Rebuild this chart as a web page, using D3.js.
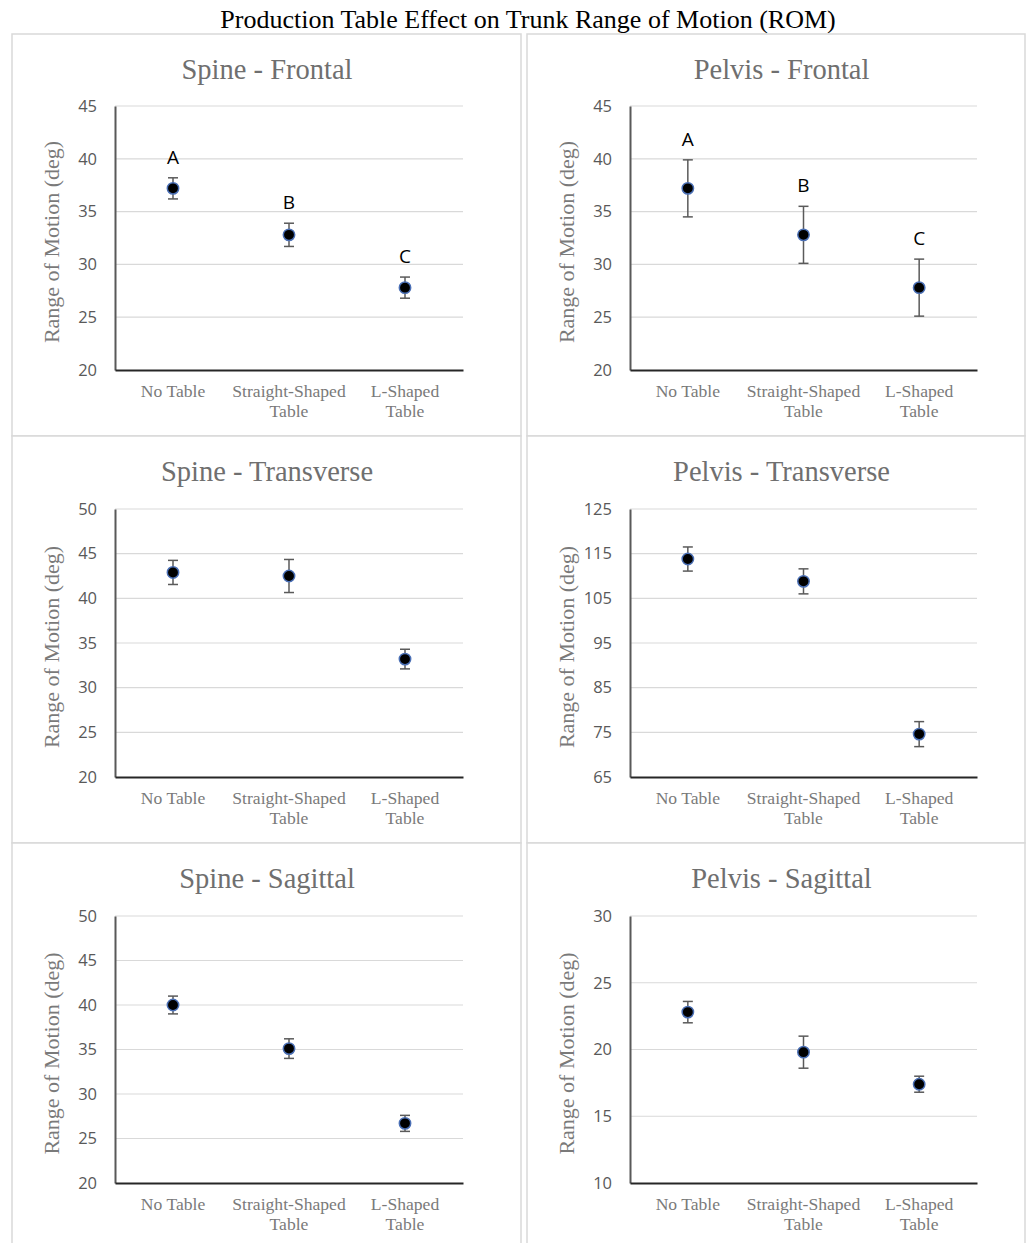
<!DOCTYPE html>
<html>
<head>
<meta charset="utf-8">
<script src="https://cdn.jsdelivr.net/npm/d3@7"></script>
<style>
  body { margin: 0; background: #fff; }
  svg { display: block; }
</style>
</head>
<body>
<div id="chart"></div>
<script>
// chart data
let chartTitle = "Production Table Effect on Trunk Range of Motion (ROM)";
let categories = ["No Table", "Straight-Shaped Table", "L-Shaped Table"];
let categoryLines = [["No Table"], ["Straight-Shaped", "Table"], ["L-Shaped", "Table"]];
let panelTitles = ["Spine - Frontal", "Pelvis - Frontal", "Spine - Transverse", "Pelvis - Transverse", "Spine - Sagittal", "Pelvis - Sagittal"];
let yDomains = [[20, 45], [20, 45], [20, 50], [65, 125], [20, 50], [10, 30]];
let yTickSteps = [5, 5, 5, 10, 5, 5];
let means = [
    [37.2, 32.8, 27.8],
    [37.2, 32.8, 27.8],
    [42.9, 42.5, 33.2],
    [113.8, 108.8, 74.6],
    [40.0, 35.1, 26.7],
    [22.8, 19.8, 17.4]
];
let errors = [
    [1.0, 1.1, 1.0],
    [2.7, 2.7, 2.7],
    [1.35, 1.85, 1.1],
    [2.7, 2.8, 2.8],
    [1.0, 1.1, 0.9],
    [0.8, 1.2, 0.6]
];
let letters = [["A", "B", "C"], ["A", "B", "C"], null, null, null, null];
let yTitle = "Range of Motion (deg)";

// layout
let W = 1026, H = 1243;
let colX = [12, 527], colW = [509, 498];
let rowY = [34, 436, 843], rowH = [402, 407, 410];
let plotTops = [106, 509, 916], plotBottoms = [370, 777, 1183];
let plotLeftOff = 103, plotRightOff = [451, 450];

let serif = "'Liberation Serif', 'Times New Roman', serif";
let sans = "'Open Sans', 'Liberation Sans', sans-serif";

let svg = d3.select("#chart").append("svg")
    .attr("width", W)
    .attr("height", H);

svg.append("rect").attr("width", W).attr("height", H).attr("fill", "#fff");

svg.append("text")
    .attr("x", 528).attr("y", 28)
    .attr("text-anchor", "middle")
    .style("font-family", serif)
    .style("font-size", "26px")
    .style("fill", "#000")
    .text(chartTitle);

panelTitles.forEach(function (title, p) {
    let col = p % 2, row = Math.floor(p / 2);
    let bx = colX[col], by = rowY[row];
    let left = bx + plotLeftOff, right = bx + plotRightOff[col];
    let top = plotTops[row], bottom = plotBottoms[row];

    let g = svg.append("g");

    g.append("rect")
        .attr("x", bx).attr("y", by)
        .attr("width", colW[col]).attr("height", rowH[row])
        .attr("fill", "#fff")
        .attr("stroke", "#d9d9d9")
        .attr("stroke-width", 1.5);

    g.append("text")
        .attr("x", (left + right) / 2 - 22).attr("y", by + 45)
        .attr("text-anchor", "middle")
        .style("font-family", serif)
        .style("font-size", "28.5px")
        .style("fill", "#6f6f6f")
        .text(title);

    let y = d3.scaleLinear().domain(yDomains[p]).range([bottom, top]);
    let x = d3.scaleBand().domain(categories).range([left, right]);
    let ticks = d3.range(yDomains[p][0], yDomains[p][1] + 0.001, yTickSteps[p]);

    // gridlines
    g.append("g").selectAll("line")
        .data(ticks.slice(1))
        .join("line")
        .attr("x1", left).attr("x2", right)
        .attr("y1", d => y(d)).attr("y2", d => y(d))
        .attr("stroke", "#d9d9d9")
        .attr("stroke-width", 1.2);

    // y axis
    let yAxis = g.append("g")
        .attr("transform", "translate(" + left + ",0)")
        .call(d3.axisLeft(y).tickValues(ticks).tickSize(0).tickPadding(18));
    yAxis.select(".domain").attr("stroke", "#595959").attr("stroke-width", 2);
    yAxis.selectAll("text")
        .style("font-family", sans)
        .style("font-size", "16.5px")
        .style("fill", "#595959");

    // x axis
    let xAxis = g.append("g")
        .attr("transform", "translate(0," + bottom + ")")
        .call(d3.axisBottom(x).tickSize(0).tickFormat(""));
    xAxis.select(".domain").attr("stroke", "#262626").attr("stroke-width", 2);

    g.append("g").selectAll("text")
        .data(categories)
        .join("text")
        .attr("x", d => x(d) + x.bandwidth() / 2)
        .attr("y", bottom + 27)
        .attr("text-anchor", "middle")
        .style("font-family", serif)
        .style("font-size", "17.6px")
        .style("fill", "#7a7a7a")
        .selectAll("tspan")
        .data((d, i) => categoryLines[i])
        .join("tspan")
        .attr("x", function () { return d3.select(this.parentNode).attr("x"); })
        .attr("dy", (d, i) => i === 0 ? 0 : 20)
        .text(d => d);

    // y axis title
    g.append("text")
        .attr("transform", "translate(" + (bx + 47) + "," + ((top + bottom) / 2 + 4) + ") rotate(-90)")
        .attr("text-anchor", "middle")
        .style("font-family", serif)
        .style("font-size", "22px")
        .style("fill", "#7a7a7a")
        .text(yTitle);

    let pts = categories.map((c, i) => ({c: c, m: means[p][i], e: errors[p][i], l: letters[p] ? letters[p][i] : null}));

    // error bars
    let eb = g.append("g").selectAll("g").data(pts).join("g")
        .attr("stroke", "#5a5a5a").attr("stroke-width", 1.5);
    eb.append("line")
        .attr("x1", d => x(d.c) + x.bandwidth() / 2).attr("x2", d => x(d.c) + x.bandwidth() / 2)
        .attr("y1", d => y(d.m + d.e)).attr("y2", d => y(d.m - d.e));
    eb.append("line")
        .attr("x1", d => x(d.c) + x.bandwidth() / 2 - 5).attr("x2", d => x(d.c) + x.bandwidth() / 2 + 5)
        .attr("y1", d => y(d.m + d.e)).attr("y2", d => y(d.m + d.e));
    eb.append("line")
        .attr("x1", d => x(d.c) + x.bandwidth() / 2 - 5).attr("x2", d => x(d.c) + x.bandwidth() / 2 + 5)
        .attr("y1", d => y(d.m - d.e)).attr("y2", d => y(d.m - d.e));

    // markers
    g.append("g").selectAll("circle").data(pts).join("circle")
        .attr("cx", d => x(d.c) + x.bandwidth() / 2)
        .attr("cy", d => y(d.m))
        .attr("r", 5.7)
        .attr("fill", "#000")
        .attr("stroke", "#4a6fb5")
        .attr("stroke-width", 1.5);

    // significance letters
    g.append("g").selectAll("text").data(pts.filter(d => d.l)).join("text")
        .attr("x", d => x(d.c) + x.bandwidth() / 2)
        .attr("y", d => y(d.m + d.e) - 14)
        .attr("text-anchor", "middle")
        .style("font-family", sans)
        .style("font-size", "19px")
        .style("fill", "#000")
        .text(d => d.l);
});
</script>
</body>
</html>
